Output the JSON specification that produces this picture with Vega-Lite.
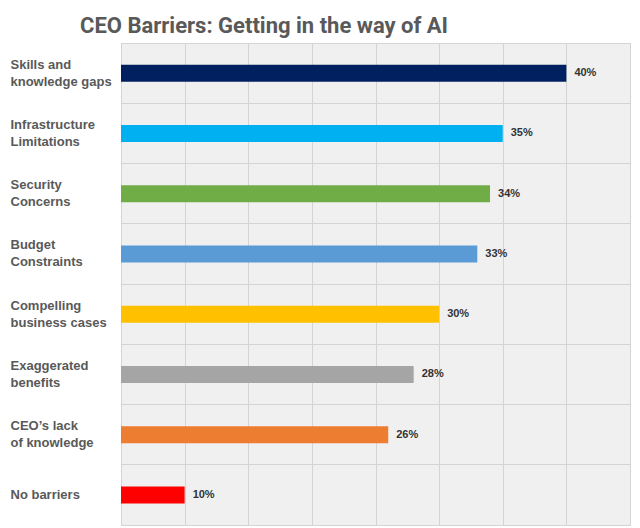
{
  "$schema": "https://vega.github.io/schema/vega-lite/v6.json",
  "description": "CEO barriers to AI, horizontal bars.",
  "autosize": "none",
  "padding": {"left": 121, "top": 43, "right": 10, "bottom": 3},
  "width": 509,
  "height": 482,
  "background": "white",
  "title": {
    "text": "CEO Barriers: Getting in the way of AI",
    "font": "Roboto",
    "fontSize": 22,
    "fontWeight": "bold",
    "color": "#595959",
    "anchor": "start",
    "frame": "group",
    "dx": -41,
    "dy": 22,
    "baseline": "alphabetic",
    "offset": 10
  },
  "config": {
    "view": {"fill": "#f0f0f0", "stroke": "#d4d4d4", "strokeWidth": 1}
  },
  "data": {
    "values": [
      {"barrier": "Skills and|knowledge gaps", "share": 0.40},
      {"barrier": "Infrastructure|Limitations", "share": 0.35},
      {"barrier": "Security|Concerns", "share": 0.34},
      {"barrier": "Budget|Constraints", "share": 0.33},
      {"barrier": "Compelling|business cases", "share": 0.30},
      {"barrier": "Exaggerated|benefits", "share": 0.28},
      {"barrier": "CEO’s lack|of knowledge", "share": 0.26},
      {"barrier": "No barriers", "share": 0.10}
    ]
  },
  "encoding": {
    "y": {
      "field": "barrier",
      "type": "nominal",
      "sort": null,
      "scale": {"paddingInner": 0, "paddingOuter": 0},
      "axis": {
        "title": null,
        "bandPosition": 0,
        "labelOffset": {"expr": "indexof(datum.value, '|') >= 0 ? -8.5 : 0"},
        "labelAlign": "left",
        "labelBaseline": "middle",
        "labelPadding": 111,
        "labelExpr": "split(datum.value, '|')",
        "labelLineHeight": 17,
        "labelFont": "Liberation Sans",
        "labelFontSize": 13,
        "labelFontWeight": "bold",
        "labelColor": "#595959",
        "ticks": false,
        "tickSize": 0,
        "domain": false,
        "grid": true,
        "gridColor": "#d4d4d4",
        "gridWidth": 1
      }
    },
    "x": {
      "field": "share",
      "type": "quantitative",
      "scale": {"domain": [0.05, 0.45], "zero": false, "nice": false},
      "axis": {
        "title": null,
        "values": [0.1, 0.15, 0.2, 0.25, 0.3, 0.35, 0.4],
        "labels": false,
        "ticks": false,
        "domain": false,
        "grid": true,
        "gridColor": "#d4d4d4",
        "gridWidth": 1
      }
    }
  },
  "layer": [
    {
      "mark": {"type": "bar", "size": 17},
      "encoding": {
        "x2": {"datum": 0.05},
        "color": {
          "field": "barrier",
          "type": "nominal",
          "scale": {
            "domain": [
              "Skills and|knowledge gaps",
              "Infrastructure|Limitations",
              "Security|Concerns",
              "Budget|Constraints",
              "Compelling|business cases",
              "Exaggerated|benefits",
              "CEO’s lack|of knowledge",
              "No barriers"
            ],
            "range": ["#002060", "#00b0f0", "#70ad47", "#5b9bd5", "#ffc000", "#a5a5a5", "#ed7d31", "#ff0000"]
          },
          "legend": null
        }
      }
    },
    {
      "mark": {
        "type": "text",
        "align": "left",
        "baseline": "middle",
        "dx": 8,
        "font": "Liberation Sans",
        "fontSize": 11,
        "fontWeight": "bold",
        "color": "#333333"
      },
      "encoding": {
        "text": {"field": "share", "type": "quantitative", "format": ".0%"}
      }
    }
  ]
}
